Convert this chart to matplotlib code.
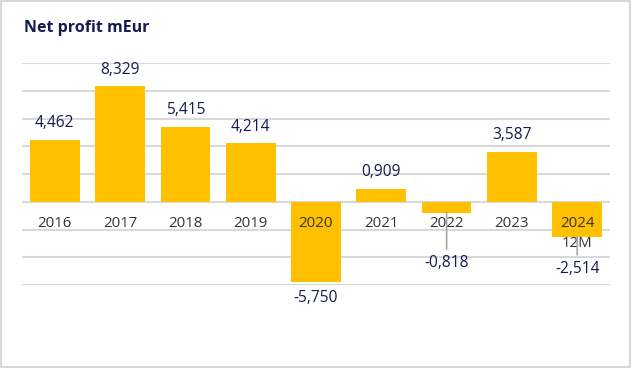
import matplotlib
matplotlib.use("Agg")
import matplotlib.pyplot as plt
from matplotlib.patches import Rectangle

# data
years = ["2016", "2017", "2018", "2019", "2020", "2021", "2022", "2023", "2024\n12M"]
net_profit = [4.462, 8.329, 5.415, 4.214, -5.750, 0.909, -0.818, 3.587, -2.514]
# label distance from bar end (points); leader line drawn when moved away
label_offsets = [12, 12, 12, 12, 12, 12, 36, 12, 23]
leaders = [False, False, False, False, False, False, True, False, True]

BAR = "#FFC000"
NAVY = "#161B52"
GRID = "#D9D9D9"
TICK = "#333333"

plt.rcParams["font.family"] = ["Open Sans", "DejaVu Sans"]

fig = plt.figure(figsize=(6.32, 3.68), dpi=100)
ax = fig.add_axes([0.035, 0.2255, 0.93, 0.6033])

x = range(len(years))
ax.bar(x, net_profit, width=0.76, color=BAR, zorder=3)

ax.set_ylim(-6, 10)
ax.set_xlim(-0.5, len(years) - 0.5)
ax.set_yticks(range(-6, 11, 2))
ax.yaxis.grid(True, color=GRID, linewidth=1.5, zorder=0)
ax.set_axisbelow(True)
ax.tick_params(left=False, bottom=False, labelleft=False, labelbottom=False)
for sp in ax.spines.values():
    sp.set_visible(False)

for i, (lab, v) in enumerate(zip(years, net_profit)):
    # category label just under the zero line
    ax.annotate(lab, xy=(i, 0), xytext=(0, -10), textcoords="offset points",
                ha="center", va="top", fontsize=10.8, color=TICK,
                linespacing=1.45, zorder=5)
    txt = f"{v:.3f}".replace(".", ",")
    off = label_offsets[i] if v >= 0 else -label_offsets[i]
    kw = {}
    if leaders[i]:
        kw["arrowprops"] = dict(arrowstyle="-", color="#A6A6A6", lw=1.2,
                                patchA=None, shrinkA=10, shrinkB=0)
    ax.annotate(txt, xy=(i, v), xytext=(0, off), textcoords="offset points",
                ha="center", va="center", fontsize=11.2, color=NAVY,
                zorder=6, **kw)

fig.text(0.038, 0.925, "Net profit mEur", fontsize=11.5, fontweight="bold",
         color=NAVY, va="center", ha="left")

fig.add_artist(Rectangle((0.002, 0.003), 0.995, 0.993, transform=fig.transFigure,
                         fill=False, edgecolor=GRID, linewidth=1.5))

fig.savefig("out.png", dpi=100)
